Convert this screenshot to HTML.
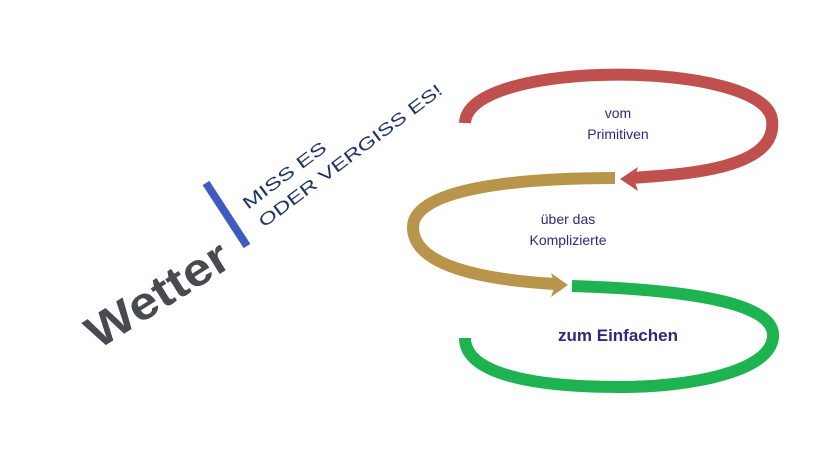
<!DOCTYPE html>
<html><head><meta charset="utf-8"><style>
html,body{margin:0;padding:0;background:#fff;}
svg{display:block}
</style></head><body>
<svg width="831" height="454" viewBox="0 0 831 454" xmlns="http://www.w3.org/2000/svg">
<rect width="831" height="454" fill="#fff"/>
<!-- logo -->
<text x="98" y="350" transform="rotate(-32 98 350)" font-family="Liberation Sans, sans-serif" font-weight="bold" font-size="46" fill="#474a4f" textLength="160" lengthAdjust="spacingAndGlyphs">Wetter</text>
<line x1="206" y1="183" x2="247" y2="246" stroke="#3f5bbf" stroke-width="8"/>
<text x="248" y="210" transform="rotate(-37 248 210)" font-family="Liberation Sans, sans-serif" font-size="17" fill="#1f3468" textLength="100" lengthAdjust="spacingAndGlyphs">MISS ES</text>
<text x="264" y="228" transform="rotate(-37 264 228)" font-family="Liberation Sans, sans-serif" font-size="17" fill="#1f3468" textLength="225" lengthAdjust="spacingAndGlyphs">ODER VERGISS ES!</text>
<!-- red -->
<path d="M465,123 C468,58 765,60 772,120 C778,168 690,174 632,178" fill="none" stroke="#c0504d" stroke-width="12"/>
<polygon points="620,179 638,167 634,179 638,191" fill="#c0504d"/>
<!-- gold -->
<path d="M615,178 C520,178 412,188 413,228 C414,268 490,280 555,284" fill="none" stroke="#b8954a" stroke-width="12"/>
<polygon points="568,285 551,273 555,285 551,297" fill="#b8954a"/>
<!-- green -->
<path d="M572,286 C700,290 776,305 773,337 C770,372 690,387 620,387 C520,387 465,370 465,338" fill="none" stroke="#1db350" stroke-width="12"/>
<!-- labels -->
<g font-family="Liberation Sans, sans-serif" fill="#2a2a7e" text-anchor="middle">
<text x="618" y="118" font-size="14">vom</text>
<text x="618" y="139" font-size="14">Primitiven</text>
<text x="568" y="224" font-size="14">über das</text>
<text x="568" y="245" font-size="14">Komplizierte</text>
<text x="618" y="341" font-size="17" font-weight="bold">zum Einfachen</text>
</g>
</svg>
</body></html>
